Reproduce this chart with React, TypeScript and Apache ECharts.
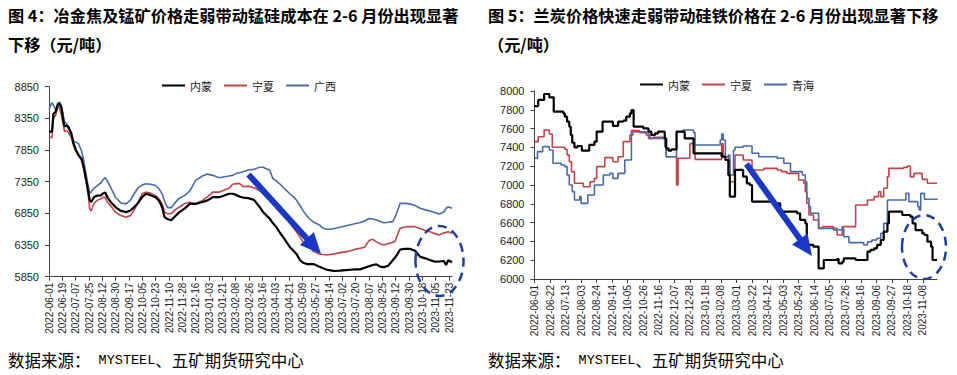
import React, { useEffect, useRef } from 'react';
import * as echarts from 'echarts';

// ---------- date helpers (axis positions are days since 2022-06-01) ----------
const START = Date.UTC(2022, 5, 1);
const DAY = 86400000;
const toDay = (s: string) => Math.round((Date.parse(s) - START) / DAY);
const toDate = (d: number) => new Date(START + d * DAY).toISOString().slice(0, 10);
const X_END = '2023-11-27';

// ---------- Figure 4: 锰硅成本 (元/吨) ----------
const leftDates = ['2022-06-01','2022-06-05','2022-06-07','2022-06-10','2022-06-13','2022-06-15','2022-06-18','2022-06-20','2022-06-22','2022-06-25',
'2022-06-28','2022-07-01','2022-07-04','2022-07-07','2022-07-11','2022-07-15','2022-07-18','2022-07-21','2022-07-24','2022-07-26',
'2022-07-28','2022-08-01','2022-08-05','2022-08-10','2022-08-13','2022-08-16','2022-08-19','2022-08-24','2022-08-30','2022-09-06',
'2022-09-13','2022-09-19','2022-09-24','2022-09-29','2022-10-05','2022-10-10','2022-10-16','2022-10-23','2022-10-28','2022-11-01',
'2022-11-04','2022-11-08','2022-11-13','2022-11-18','2022-11-24','2022-12-01','2022-12-08','2022-12-16','2022-12-25','2023-01-01',
'2023-01-08','2023-01-17','2023-01-30','2023-02-04','2023-02-09','2023-02-13','2023-02-18','2023-02-25','2023-03-05','2023-03-12',
'2023-03-17','2023-03-26','2023-03-30','2023-04-04','2023-04-09','2023-04-14','2023-04-18','2023-04-22','2023-04-27','2023-05-01',
'2023-05-06','2023-05-10','2023-05-15','2023-05-20','2023-05-24','2023-06-01','2023-06-06','2023-06-11','2023-06-16','2023-06-21',
'2023-06-29','2023-07-06','2023-07-13','2023-07-20','2023-07-26','2023-08-01','2023-08-07','2023-08-12','2023-08-17','2023-08-22',
'2023-08-27','2023-09-02','2023-09-08','2023-09-11','2023-09-14','2023-09-18','2023-09-24','2023-10-01','2023-10-08','2023-10-15',
'2023-10-22','2023-10-29','2023-11-04','2023-11-10','2023-11-16','2023-11-19','2023-11-22','2023-11-27'];

const leftNeimeng = [8140,8140,8420,8460,8580,8590,8510,8330,8220,8240,
8190,8120,7960,7860,7770,7710,7570,7390,7200,7060,
7030,7110,7130,7135,7165,7180,7100,7020,6945,6890,
6870,6895,6950,7010,7110,7160,7135,7105,7040,6940,
6790,6760,6740,6800,6870,6925,7000,7000,7030,7055,
7105,7105,7160,7160,7140,7115,7100,7090,7060,6955,
6870,6765,6700,6630,6540,6460,6390,6320,6260,6210,
6110,6070,6050,6050,6050,6008,5985,5960,5950,5940,
5945,5955,5960,5965,5966,5990,6015,6035,6045,6008,
6000,6025,6110,6150,6200,6280,6290,6290,6260,6165,
6140,6110,6087,6090,6098,6035,6110,6077];

const leftNingxia = [8050,8050,8350,8400,8530,8520,8390,8260,8140,8160,
8110,8050,7930,7840,7750,7690,7550,7360,7130,6920,
6890,7010,7055,7080,7105,7100,7025,6960,6865,6815,
6790,6815,6900,7020,7160,7185,7170,7130,7070,6990,
6870,6845,6845,6905,6950,7005,7025,7000,7055,7110,
7185,7186,7245,7310,7320,7324,7271,7280,7255,7210,
7160,7055,7008,6935,6870,6800,6760,6700,6620,6560,
6470,6400,6360,6300,6250,6208,6200,6193,6200,6210,
6230,6242,6260,6285,6300,6315,6420,6440,6400,6370,
6350,6375,6390,6410,6500,6615,6635,6640,6640,6612,
6580,6555,6530,6510,6545,6550,6561,6535];

const leftGuangxi = [8490,8600,8560,8490,8540,8610,8540,8420,8300,8260,
8210,8080,7995,7975,7950,7830,7680,7470,7270,7170,
7190,7250,7285,7330,7380,7415,7360,7240,7100,7015,
7000,7060,7160,7250,7300,7318,7310,7290,7230,7150,
7040,6940,6940,7015,7090,7130,7200,7370,7440,7470,
7450,7413,7440,7450,7482,7490,7508,7535,7545,7577,
7577,7530,7403,7360,7310,7250,7205,7160,7110,7060,
6970,6890,6810,6750,6715,6667,6614,6600,6600,6610,
6630,6650,6670,6690,6705,6730,6770,6760,6745,6720,
6703,6710,6719,6790,6880,7008,7008,7000,6975,6930,
6905,6885,6865,6840,6870,6930,6950,6930];

// ---------- Figure 5: 硅铁价格 (元/吨), price change points ----------
const rightNeimeng: [string, number][] = [
['2022-06-01',7840],['2022-06-06',7905],['2022-06-14',7968],['2022-06-21',7933],['2022-06-27',7780],['2022-07-10',7760],
['2022-07-12',7727],['2022-07-15',7674],['2022-07-18',7621],['2022-07-20',7532],['2022-07-22',7450],['2022-07-25',7401],
['2022-07-29',7415],['2022-08-04',7365],['2022-08-14',7426],['2022-08-21',7461],['2022-08-24',7567],['2022-09-01',7674],
['2022-09-15',7628],['2022-09-22',7674],['2022-09-29',7684],['2022-10-03',7727],['2022-10-08',7762],['2022-10-10',7798],
['2022-10-13',7620],['2022-10-26',7603],['2022-11-02',7567],['2022-11-06',7532],['2022-11-11',7550],['2022-11-15',7567],
['2022-11-24',7496],['2022-11-26',7390],['2022-11-29',7365],['2022-12-03',7380],['2022-12-10',7567],['2022-12-21',7496],
['2023-01-02',7337],['2023-02-09',7301],['2023-02-14',7266],['2023-02-18',7106],['2023-02-20',6876],['2023-02-27',7160],
['2023-03-10',7089],['2023-03-15',7018],['2023-03-19',7000],['2023-03-22',6823],['2023-04-20',6805],['2023-04-29',6716],
['2023-05-22',6699],['2023-05-26',6628],['2023-06-02',6592],['2023-06-04',6362],['2023-06-13',6344],['2023-06-20',6113],
['2023-06-27',6202],['2023-07-15',6213],['2023-07-17',6167],['2023-07-22',6184],['2023-07-24',6220],['2023-08-09',6202],
['2023-08-25',6291],['2023-08-29',6309],['2023-09-03',6326],['2023-09-07',6362],['2023-09-12',6415],['2023-09-16',6504],
['2023-09-21',6592],['2023-09-23',6716],['2023-10-11',6681],['2023-10-22',6663],['2023-10-25',6592],['2023-10-29',6521],
['2023-11-07',6486],['2023-11-10',6468],['2023-11-14',6397],['2023-11-19',6344],['2023-11-21',6202],['2023-11-27',6202]];

const rightNingxia: [string, number][] = [
['2022-06-01',7461],['2022-06-06',7514],['2022-06-14',7585],['2022-06-21',7543],['2022-06-25',7401],['2022-07-12',7380],
['2022-07-15',7319],['2022-07-18',7248],['2022-07-21',7142],['2022-07-25',7018],['2022-08-06',6982],['2022-08-15',7035],
['2022-08-21',7071],['2022-08-24',7195],['2022-09-04',7291],['2022-09-15',7248],['2022-09-22',7301],['2022-09-29',7461],
['2022-10-08',7532],['2022-10-10',7578],['2022-10-21',7557],['2022-11-02',7496],['2022-11-08',7507],['2022-11-24',7461],
['2022-11-26',7301],['2022-12-10',7000],['2022-12-12',7284],['2022-12-28',7440],['2023-01-04',7273],['2023-02-09',7440],
['2023-02-11',7301],['2023-02-18',7266],['2023-02-20',7035],['2023-02-27',7319],['2023-03-10',7266],['2023-03-22',7160],
['2023-04-07',7177],['2023-04-25',7160],['2023-05-01',7142],['2023-05-08',7124],['2023-05-24',7053],['2023-05-31',7018],
['2023-06-02',6929],['2023-06-04',6805],['2023-06-07',6681],['2023-06-13',6628],['2023-06-20',6539],['2023-06-25',6557],
['2023-07-10',6539],['2023-07-15',6468],['2023-07-22',6557],['2023-08-09',6787],['2023-08-25',6841],['2023-09-03',6876],
['2023-09-09',6929],['2023-09-12',6876],['2023-09-16',6965],['2023-09-21',7089],['2023-09-23',7177],['2023-10-13',7188],
['2023-10-18',7202],['2023-10-22',7089],['2023-10-27',7124],['2023-11-07',7060],['2023-11-14',7018],['2023-11-27',7018]];

const rightQinghai: [string, number][] = [
['2022-06-01',7284],['2022-06-05',7355],['2022-06-12',7408],['2022-06-21',7372],['2022-06-26',7231],['2022-07-07',7213],
['2022-07-12',7195],['2022-07-15',7106],['2022-07-18',7000],['2022-07-22',6929],['2022-07-25',6840],['2022-08-01',6876],
['2022-08-03',6805],['2022-08-12',6894],['2022-08-21',7000],['2022-09-02',7106],['2022-09-11',7124],['2022-09-15',7071],
['2022-09-22',7124],['2022-10-01',7266],['2022-10-10',7532],['2022-10-12',7567],['2022-10-30',7532],['2022-11-04',7496],
['2022-11-24',7408],['2022-11-26',7301],['2022-12-10',7567],['2022-12-19',7585],['2023-01-02',7557],['2023-01-04',7426],
['2023-02-07',7479],['2023-02-09',7543],['2023-02-11',7479],['2023-02-14',7301],['2023-02-18',7319],['2023-02-20',7106],
['2023-02-25',7372],['2023-02-27',7401],['2023-03-10',7415],['2023-03-22',7337],['2023-03-31',7301],['2023-04-25',7284],
['2023-05-04',7231],['2023-05-13',7142],['2023-05-29',7106],['2023-06-02',7035],['2023-06-04',6858],['2023-06-07',6770],
['2023-06-09',6699],['2023-06-20',6539],['2023-07-10',6521],['2023-07-22',6539],['2023-07-24',6450],['2023-07-31',6387],
['2023-08-20',6362],['2023-08-25',6397],['2023-08-31',6415],['2023-09-07',6433],['2023-09-12',6486],['2023-09-16',6592],
['2023-09-21',6840],['2023-10-16',6911],['2023-10-20',6823],['2023-11-01',6770],['2023-11-03',6734],['2023-11-05',6911],
['2023-11-10',6848],['2023-11-27',6840]];

const leftTitle = ['图 4：冶金焦及锰矿价格走弱带动锰硅成本在 2-6 月份出现显著', '下移（元/吨）'];
const rightTitle = ['图 5：兰炭价格快速走弱带动硅铁价格在 2-6 月份出现显著下移', '（元/吨）'];
const leftLegend = ['内蒙', '宁夏', '广西'];
const rightLegend = ['内蒙', '宁夏', '青海'];

const C_BLACK = '#000000';
const C_RED = '#c0444a';
const C_BLUE = '#4a6aa6';
const C_ANNOT = '#1a38c4';
const C_DASH = '#1f3f9e';
const CJK = '"Noto Sans CJK SC", "Noto Sans", sans-serif';
const NUM = '"Liberation Sans", Arial, sans-serif';

function arrow(x1: number, y1: number, x2: number, y2: number) {
  const dx = x2 - x1, dy = y2 - y1;
  const len = Math.hypot(dx, dy);
  const ux = dx / len, uy = dy / len;
  const px = -uy, py = ux;
  const headLen = 21, half = 9.5;
  const bx = x2 - ux * headLen, by = y2 - uy * headLen;
  return [
    { type: 'line', z: 100, shape: { x1, y1, x2: bx + ux * 3, y2: by + uy * 3 }, style: { stroke: C_ANNOT, lineWidth: 6 } },
    { type: 'polygon', z: 100, shape: { points: [[x2, y2], [bx + px * half, by + py * half], [bx - px * half, by - py * half]] }, style: { fill: C_ANNOT } },
  ];
}

export default function App() {
  const ref = useRef<HTMLDivElement>(null);
  useEffect(() => {
    if (!ref.current) return;
    const chart = echarts.init(ref.current, undefined, { renderer: 'svg' });
    const axisCommon = {
      axisLine: { show: true, lineStyle: { color: '#404040', width: 1 } },
      axisTick: { show: true, length: 4, inside: false, lineStyle: { color: '#404040' } },
      splitLine: { show: false },
    };
    const xAxis = [0, 1].map((i) => ({
      type: 'value', gridIndex: i, min: 0, max: toDay(X_END), interval: i === 0 ? 18 : 21,
      ...axisCommon,
      axisLabel: { rotate: 90, fontSize: 10, fontFamily: NUM, color: '#222', margin: 6, showMaxLabel: false,
        formatter: (v: number) => toDate(v) },
    }));
    const yAxis = [
      { type: 'value', gridIndex: 0, min: 5850, max: 8850, interval: 500, ...axisCommon,
        axisLabel: { fontSize: 11, fontFamily: NUM, color: '#222', margin: 10, formatter: (v: number) => String(v) } },
      { type: 'value', gridIndex: 1, min: 6000, max: 8000, interval: 200, ...axisCommon,
        axisLabel: { fontSize: 11, fontFamily: NUM, color: '#222', margin: 10, formatter: (v: number) => String(v) } },
    ];
    const lineS = (name: string, color: string, width: number, idx: number, data: any[], step?: string) => ({
      type: 'line', name, xAxisIndex: idx, yAxisIndex: idx, data, symbol: 'none', showSymbol: false,
      step: step || false, lineStyle: { color, width }, itemStyle: { color }, z: color === C_BLACK ? 3 : 2,
    });
    const series = [
      lineS('内蒙', C_BLACK, 2.2, 0, leftDates.map((d, i) => [toDay(d), leftNeimeng[i]])),
      lineS('宁夏', C_RED, 1.6, 0, leftDates.map((d, i) => [toDay(d), leftNingxia[i]])),
      lineS('广西', C_BLUE, 1.6, 0, leftDates.map((d, i) => [toDay(d), leftGuangxi[i]])),
      lineS('内蒙', C_BLACK, 2.2, 1, rightNeimeng.map(([d, v]) => [toDay(d), v]), 'end'),
      lineS('宁夏', C_RED, 1.6, 1, rightNingxia.map(([d, v]) => [toDay(d), v]), 'end'),
      lineS('青海', C_BLUE, 1.6, 1, rightQinghai.map(([d, v]) => [toDay(d), v]), 'end'),
    ];
    const legendCommon = { icon: 'rect', itemWidth: 23, itemHeight: 2, itemGap: 12,
      textStyle: { fontSize: 11, fontFamily: CJK, color: '#222' } };
    const titleText = (text: string, x: number, y: number) => ({
      type: 'text', x, y, style: { text, fontSize: 16.2, fontWeight: 'bold', fontFamily: CJK, fill: '#000', verticalAlign: 'middle' },
    });
    const sourceText = (x: number) => ({
      type: 'text', x, y: 360,
      style: {
        text: '{a|数据来源：}{b| MYSTEEL}{a|、五矿期货研究中心}', verticalAlign: 'middle', fill: '#000',
        rich: {
          a: { fontSize: 16.5, fontFamily: CJK, fill: '#000' },
          b: { fontSize: 13.5, fontFamily: '"Liberation Mono", "DejaVu Sans Mono", monospace', fill: '#000' },
        },
      },
    });
    chart.setOption({
      animation: false,
      backgroundColor: '#ffffff',
      grid: [
        { left: 49, top: 86.7, width: 403, height: 190 },
        { left: 534.5, top: 91, width: 402.5, height: 188 },
      ],
      xAxis, yAxis, series,
      legend: [
        { ...legendCommon, data: leftLegend, left: 157, top: 75 },
        { ...legendCommon, data: rightLegend, left: 635, top: 74 },
      ],
      graphic: [
        titleText(leftTitle[0], 8, 14.5),
        titleText(leftTitle[1], 8, 44),
        titleText(rightTitle[0], 488, 14.5),
        titleText(rightTitle[1], 488, 44),
        sourceText(8),
        sourceText(488),
        ...arrow(248.5, 174.5, 321, 254),
        ...arrow(746.5, 164, 812, 256),
        { type: 'ellipse', z: 100, shape: { cx: 439.5, cy: 261, rx: 24, ry: 35 }, style: { fill: 'none', stroke: C_DASH, lineWidth: 2.5, lineDash: [9, 6] } },
        { type: 'ellipse', z: 100, shape: { cx: 924, cy: 247, rx: 22, ry: 32 }, style: { fill: 'none', stroke: C_DASH, lineWidth: 2.5, lineDash: [9, 6] } },
      ],
    });
    return () => chart.dispose();
  }, []);
  return <div ref={ref} style={{ position: 'fixed', left: 0, top: 0, width: 957, height: 375, background: '#fff' }} />;
}
